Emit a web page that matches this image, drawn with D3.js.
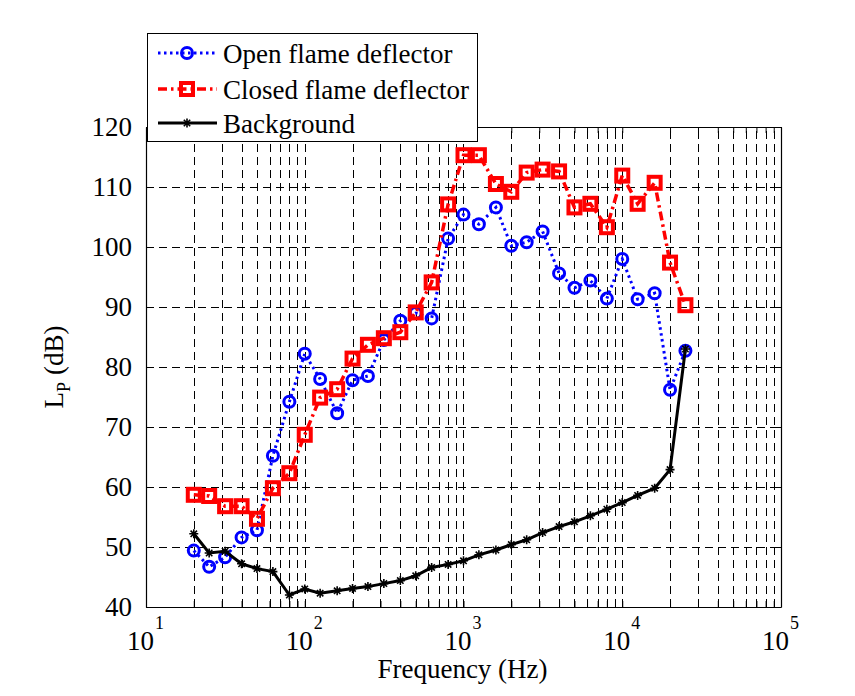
<!DOCTYPE html>
<html>
<head>
<meta charset="utf-8">
<script src="https://cdn.jsdelivr.net/npm/d3@7"></script>
<style>
  html, body { margin: 0; padding: 0; background: #fff; }
  svg { display: block; }
  text { font-family: "Liberation Serif", "Times New Roman", serif; fill: #000; }
</style>
</head>
<body>
<svg id="chart" width="855" height="696"></svg>
<script>
// ---- data ----
const frequencies = [20, 25, 31.5, 40, 50, 63, 80, 100, 125, 160, 200, 250, 315, 400, 500, 630,
  800, 1000, 1250, 1600, 2000, 2500, 3150, 4000, 5000, 6300, 8000, 10000, 12500, 16000, 20000, 25000];
const openFlame = [49.4, 46.7, 48.3, 51.6, 52.8, 65.2, 74.2, 82.2, 78.0, 72.3, 77.8, 78.5, 84.5, 87.7, 89.0, 88.1,
  101.4, 105.4, 103.8, 106.6, 100.2, 100.8, 102.6, 95.6, 93.2, 94.4, 91.4, 98.0, 91.3, 92.3, 76.2, 82.7];
const closedFlame = [58.7, 58.5, 56.8, 56.8, 54.7, 59.8, 62.3, 68.7, 74.9, 76.3, 81.4, 83.7, 84.8, 85.8, 89.1, 94.1,
  107.1, 115.3, 115.3, 110.5, 109.2, 112.4, 112.9, 112.6, 106.6, 107.2, 103.3, 111.9, 107.2, 110.7, 97.4, 90.3];
const background = [52.2, 49.0, 49.3, 47.2, 46.4, 45.9, 42.0, 43.0, 42.3, 42.7, 43.1, 43.4, 43.9, 44.4, 45.2, 46.6,
  47.1, 47.7, 48.7, 49.5, 50.4, 51.2, 52.4, 53.4, 54.2, 55.2, 56.3, 57.4, 58.6, 59.8, 62.9, 83.0];
const seriesNames = ["Open flame deflector", "Closed flame deflector", "Background"];
const xDomain = [10, 100000];
const yDomain = [40, 120];
const yTicks = [40, 50, 60, 70, 80, 90, 100, 110, 120];
const xMajorTicks = [10, 100, 1000, 10000, 100000];
const xExponents = ["1", "2", "3", "4", "5"];
const xLabel = "Frequency (Hz)";

// ---- layout ----
const pL = 146, pR = 781, pT = 127, pB = 607;
const FS = 27, FSs = 18;
const svg = d3.select("#chart");
const x = d3.scaleLog().domain(xDomain).range([pL, pR]);
const y = d3.scaleLinear().domain(yDomain).range([pB, pT]);

const xAllTicks = [];
for (let d = 10; d < 100000; d *= 10) for (let m = 1; m < 10; m++) xAllTicks.push(d * m);
xAllTicks.push(100000);

// grid
const grid = svg.append("g").attr("stroke", "#000").attr("stroke-width", 1).attr("stroke-dasharray", "8,5");
grid.selectAll("line.vx").data(xAllTicks.filter(v => v > 10 && v < 100000)).join("line")
  .attr("x1", d => Math.round(x(d)) + 0.5).attr("x2", d => Math.round(x(d)) + 0.5)
  .attr("y1", pB).attr("y2", pT);
grid.selectAll("line.hy").data(yTicks.filter(v => v > 40 && v < 120)).join("line")
  .attr("x1", pL).attr("x2", pR)
  .attr("y1", d => Math.round(y(d)) + 0.5).attr("y2", d => Math.round(y(d)) + 0.5);

// axes (ticks inside, box)
const axB = svg.append("g").attr("transform", `translate(0,${pB})`)
  .call(d3.axisBottom(x).tickValues(xAllTicks).tickSizeInner(-6).tickSizeOuter(0).tickFormat(() => ""));
const axT = svg.append("g").attr("transform", `translate(0,${pT})`)
  .call(d3.axisTop(x).tickValues(xAllTicks).tickSizeInner(-6).tickSizeOuter(0).tickFormat(() => ""));
const axL = svg.append("g").attr("transform", `translate(${pL},0)`)
  .call(d3.axisLeft(y).tickValues(yTicks).tickSizeInner(-6).tickSizeOuter(0).tickPadding(14).tickFormat(d3.format("d")));
const axR = svg.append("g").attr("transform", `translate(${pR},0)`)
  .call(d3.axisRight(y).tickValues(yTicks).tickSizeInner(-6).tickSizeOuter(0).tickFormat(() => ""));
[axB, axT, axL, axR].forEach(a => {
  a.selectAll("path.domain").attr("stroke", "#000").attr("stroke-width", 1.2);
  a.selectAll(".tick line").attr("stroke", "#000").attr("stroke-width", 1);
});
axL.selectAll(".tick text").style("font-family", '"Liberation Serif", serif').style("font-size", FS + "px").attr("dy", "0.33em");

// x decade labels with superscript
const xl = svg.append("g");
xMajorTicks.forEach((v, i) => {
  xl.append("text").attr("x", x(v) + 8).attr("y", 650).attr("text-anchor", "end")
    .style("font-size", FS + "px").text("10");
  xl.append("text").attr("x", x(v) + 9).attr("y", 629)
    .style("font-size", FSs + "px").text(xExponents[i]);
});

svg.append("text").attr("x", (pL + pR) / 2 - 1).attr("y", 678).attr("text-anchor", "middle")
  .style("font-size", FS + "px").text(xLabel);

const yl = svg.append("text").attr("transform", "translate(63,367) rotate(-90)").attr("text-anchor", "middle")
  .style("font-size", FS + "px");
yl.append("tspan").text("L");
yl.append("tspan").attr("dy", 7).style("font-size", FSs + "px").text("P");
yl.append("tspan").attr("dy", -7).text(" (dB)");

// lines
const line = d3.line().x(d => x(d[0])).y(d => y(d[1]));
const openData = frequencies.map((f, i) => [f, openFlame[i]]);
const closedData = frequencies.map((f, i) => [f, closedFlame[i]]);
const bgData = frequencies.map((f, i) => [f, background[i]]);

const blue = "#0000ff", red = "#ff0000";
const star = "M-4.5,0H4.5M0,-4.5V4.5M-3.2,-3.2L3.2,3.2M-3.2,3.2L3.2,-3.2";

function drawOpen(g, data) {
  g.append("path").datum(data).attr("d", line).attr("fill", "none").attr("stroke", blue)
    .attr("stroke-width", 3).attr("stroke-dasharray", "2.5,3.5");
  g.selectAll("circle").data(data).join("circle").attr("cx", d => x(d[0])).attr("cy", d => y(d[1]))
    .attr("r", 5.5).attr("fill", "none").attr("stroke", blue).attr("stroke-width", 3);
}
function drawClosed(g, data) {
  g.append("path").datum(data).attr("d", line).attr("fill", "none").attr("stroke", red)
    .attr("stroke-width", 3.5).attr("stroke-dasharray", "9,4,2.5,4");
  g.selectAll("rect").data(data).join("rect").attr("x", d => x(d[0]) - 6).attr("y", d => y(d[1]) - 6)
    .attr("width", 12).attr("height", 12).attr("fill", "none").attr("stroke", red).attr("stroke-width", 4);
}
function drawBg(g, data) {
  g.append("path").datum(data).attr("d", line).attr("fill", "none").attr("stroke", "#000")
    .attr("stroke-width", 3);
  g.selectAll("path.m").data(data).join("path").attr("class", "m")
    .attr("transform", d => `translate(${x(d[0])},${y(d[1])})`).attr("d", star)
    .attr("stroke", "#000").attr("stroke-width", 1.6).attr("fill", "none");
}
drawOpen(svg.append("g"), openData);
drawClosed(svg.append("g"), closedData);
drawBg(svg.append("g"), bgData);

// legend
const lg = svg.append("g");
lg.append("rect").attr("x", 147.5).attr("y", 33.5).attr("width", 330).attr("height", 108)
  .attr("fill", "#fff").attr("stroke", "#000").attr("stroke-width", 1);
const rowsY = [53, 89, 123];
const lx1 = 158, lx2 = 217, lm = 187;
[0, 1, 2].forEach(i => {
  const g = lg.append("g");
  const ln = g.append("line").attr("x1", lx1).attr("x2", lx2).attr("y1", rowsY[i]).attr("y2", rowsY[i]);
  if (i === 0) {
    ln.attr("stroke", blue).attr("stroke-width", 3).attr("stroke-dasharray", "2.5,3.5");
    g.append("circle").attr("cx", lm).attr("cy", rowsY[i]).attr("r", 5.5).attr("fill", "none")
      .attr("stroke", blue).attr("stroke-width", 3);
  } else if (i === 1) {
    ln.attr("stroke", red).attr("stroke-width", 3.5).attr("stroke-dasharray", "9,4,2.5,4");
    g.append("rect").attr("x", lm - 6).attr("y", rowsY[i] - 6).attr("width", 12).attr("height", 12)
      .attr("fill", "none").attr("stroke", red).attr("stroke-width", 4);
  } else {
    ln.attr("stroke", "#000").attr("stroke-width", 3);
    g.append("path").attr("transform", `translate(${lm},${rowsY[i]})`).attr("d", star)
      .attr("stroke", "#000").attr("stroke-width", 1.6);
  }
  g.append("text").attr("x", 223).attr("y", rowsY[i] + 10).style("font-size", FS + "px").text(seriesNames[i]);
});
</script>
</body>
</html>
